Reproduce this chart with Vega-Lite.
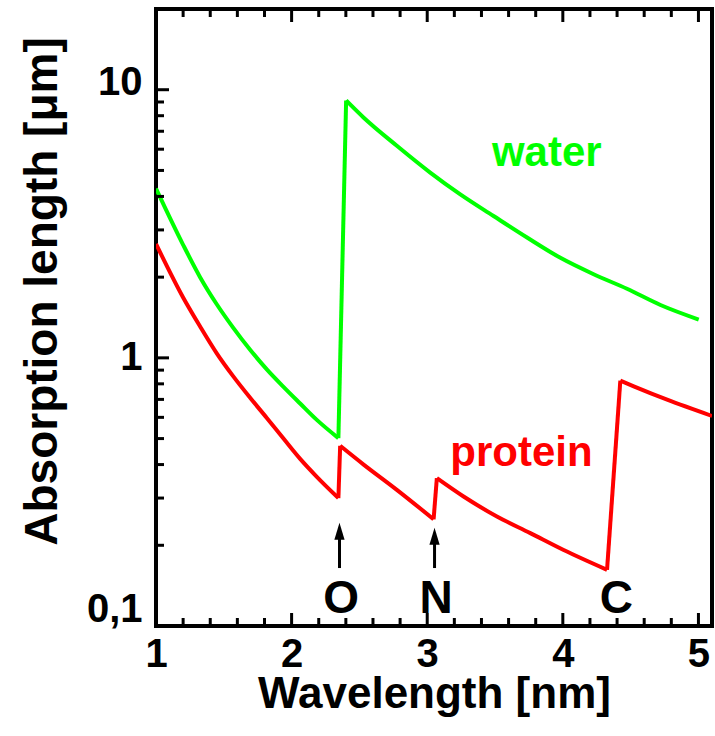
{
  "$schema": "https://vega.github.io/schema/vega-lite/v6.json",
  "width": 556,
  "height": 617,
  "autosize": {"type": "none"},
  "padding": {"left": 156, "top": 9, "right": 3, "bottom": 110},
  "background": "white",
  "config": {
    "view": {"stroke": "black", "strokeWidth": 4},
    "font": "Liberation Sans",
    "axis": {"grid": false, "domain": false, "ticks": false, "labelFont": "Liberation Sans", "labelFontWeight": "bold", "labelColor": "black", "titleFont": "Liberation Sans", "titleFontWeight": "bold", "titleColor": "black"}
  },
  "datasets": {
    "curves": [
      {"s": "water", "seg": "w1", "x": 1.0, "y": 4.28},
      {"s": "water", "seg": "w1", "x": 1.2, "y": 2.64},
      {"s": "water", "seg": "w1", "x": 1.325, "y": 2.0},
      {"s": "water", "seg": "w1", "x": 1.448, "y": 1.585},
      {"s": "water", "seg": "w1", "x": 1.57, "y": 1.294},
      {"s": "water", "seg": "w1", "x": 1.694, "y": 1.072},
      {"s": "water", "seg": "w1", "x": 1.817, "y": 0.906},
      {"s": "water", "seg": "w1", "x": 1.94, "y": 0.78},
      {"s": "water", "seg": "w1", "x": 2.063, "y": 0.676},
      {"s": "water", "seg": "w1", "x": 2.186, "y": 0.587},
      {"s": "water", "seg": "w1", "x": 2.345, "y": 0.502},
      {"s": "water", "seg": "wj", "x": 2.345, "y": 0.502},
      {"s": "water", "seg": "wj", "x": 2.402, "y": 9.12},
      {"s": "water", "seg": "w2", "x": 2.402, "y": 9.12},
      {"s": "water", "seg": "w2", "x": 2.53, "y": 7.88},
      {"s": "water", "seg": "w2", "x": 2.776, "y": 6.18},
      {"s": "water", "seg": "w2", "x": 3.022, "y": 4.91},
      {"s": "water", "seg": "w2", "x": 3.244, "y": 4.07},
      {"s": "water", "seg": "w2", "x": 3.489, "y": 3.38},
      {"s": "water", "seg": "w2", "x": 3.736, "y": 2.81},
      {"s": "water", "seg": "w2", "x": 3.982, "y": 2.36},
      {"s": "water", "seg": "w2", "x": 4.227, "y": 2.05},
      {"s": "water", "seg": "w2", "x": 4.473, "y": 1.81},
      {"s": "water", "seg": "w2", "x": 4.72, "y": 1.575},
      {"s": "water", "seg": "w2", "x": 5.002, "y": 1.39},
      {"s": "protein", "seg": "p1", "x": 1.0, "y": 2.66},
      {"s": "protein", "seg": "p1", "x": 1.2, "y": 1.68},
      {"s": "protein", "seg": "p1", "x": 1.325, "y": 1.31},
      {"s": "protein", "seg": "p1", "x": 1.448, "y": 1.04},
      {"s": "protein", "seg": "p1", "x": 1.57, "y": 0.853},
      {"s": "protein", "seg": "p1", "x": 1.694, "y": 0.71},
      {"s": "protein", "seg": "p1", "x": 1.817, "y": 0.597},
      {"s": "protein", "seg": "p1", "x": 1.94, "y": 0.5},
      {"s": "protein", "seg": "p1", "x": 2.063, "y": 0.42},
      {"s": "protein", "seg": "p1", "x": 2.186, "y": 0.36},
      {"s": "protein", "seg": "p1", "x": 2.345, "y": 0.3},
      {"s": "protein", "seg": "pj1", "x": 2.345, "y": 0.3},
      {"s": "protein", "seg": "pj1", "x": 2.358, "y": 0.47},
      {"s": "protein", "seg": "p2", "x": 2.358, "y": 0.47},
      {"s": "protein", "seg": "p2", "x": 2.531, "y": 0.4},
      {"s": "protein", "seg": "p2", "x": 2.776, "y": 0.322},
      {"s": "protein", "seg": "p2", "x": 3.047, "y": 0.25},
      {"s": "protein", "seg": "pj2", "x": 3.047, "y": 0.25},
      {"s": "protein", "seg": "pj2", "x": 3.071, "y": 0.356},
      {"s": "protein", "seg": "p3", "x": 3.071, "y": 0.356},
      {"s": "protein", "seg": "p3", "x": 3.268, "y": 0.304},
      {"s": "protein", "seg": "p3", "x": 3.514, "y": 0.256},
      {"s": "protein", "seg": "p3", "x": 3.76, "y": 0.222},
      {"s": "protein", "seg": "p3", "x": 4.006, "y": 0.192},
      {"s": "protein", "seg": "p3", "x": 4.326, "y": 0.162},
      {"s": "protein", "seg": "pj3", "x": 4.326, "y": 0.162},
      {"s": "protein", "seg": "pj3", "x": 4.424, "y": 0.822},
      {"s": "protein", "seg": "p4", "x": 4.424, "y": 0.822},
      {"s": "protein", "seg": "p4", "x": 4.523, "y": 0.783},
      {"s": "protein", "seg": "p4", "x": 4.769, "y": 0.698},
      {"s": "protein", "seg": "p4", "x": 5.1, "y": 0.607}
    ],
    "xticks": [
      {"v": 1.2, "kind": "minor"}, {"v": 1.4, "kind": "minor"}, {"v": 1.6, "kind": "minor"}, {"v": 1.8, "kind": "minor"},
      {"v": 2, "kind": "major"}, {"v": 2.2, "kind": "minor"}, {"v": 2.4, "kind": "minor"}, {"v": 2.6, "kind": "minor"}, {"v": 2.8, "kind": "minor"},
      {"v": 3, "kind": "major"}, {"v": 3.2, "kind": "minor"}, {"v": 3.4, "kind": "minor"}, {"v": 3.6, "kind": "minor"}, {"v": 3.8, "kind": "minor"},
      {"v": 4, "kind": "major"}, {"v": 4.2, "kind": "minor"}, {"v": 4.4, "kind": "minor"}, {"v": 4.6, "kind": "minor"}, {"v": 4.8, "kind": "minor"},
      {"v": 5, "kind": "major"}
    ],
    "yticks": [
      {"v": 0.2, "kind": "minor"}, {"v": 0.3, "kind": "minor"}, {"v": 0.4, "kind": "minor"}, {"v": 0.5, "kind": "minor"},
      {"v": 0.6, "kind": "minor"}, {"v": 0.7, "kind": "minor"}, {"v": 0.8, "kind": "minor"}, {"v": 0.9, "kind": "minor"},
      {"v": 1, "kind": "major"},
      {"v": 2, "kind": "minor"}, {"v": 3, "kind": "minor"}, {"v": 4, "kind": "minor"}, {"v": 5, "kind": "minor"},
      {"v": 6, "kind": "minor"}, {"v": 7, "kind": "minor"}, {"v": 8, "kind": "minor"}, {"v": 9, "kind": "minor"},
      {"v": 10, "kind": "major"}
    ],
    "arrows": [
      {"edge": "O", "x": 2.353, "y0": 0.1645, "y1": 0.2187, "yh": 0.2254},
      {"edge": "N", "x": 3.054, "y0": 0.1645, "y1": 0.2094, "yh": 0.216}
    ],
    "edges": [
      {"t": "O", "x": 2.365, "y": 0.1117},
      {"t": "N", "x": 3.066, "y": 0.1117},
      {"t": "C", "x": 4.395, "y": 0.1117}
    ],
    "names": [
      {"t": "water", "x": 3.477, "y": 5.2},
      {"t": "protein", "x": 3.17, "y": 0.3936}
    ]
  },
  "layer": [
    {
      "data": {"name": "curves"},
      "mark": {"type": "line", "strokeWidth": 4, "clip": true, "interpolate": "monotone", "strokeJoin": "miter"},
      "encoding": {
        "x": {"field": "x", "type": "quantitative", "scale": {"type": "linear", "domain": [1, 5.1], "nice": false, "zero": false},
          "axis": {"orient": "bottom", "values": [1, 2, 3, 4, 5], "format": "d", "labelFontSize": 40, "labelPadding": 8, "labelFlush": false, "labelOverlap": false, "labelBound": false, "title": "Wavelength [nm]", "titleFontSize": 44, "titlePadding": -2}},
        "y": {"field": "y", "type": "quantitative", "scale": {"type": "log", "domain": [0.1, 20], "nice": false},
          "axis": {"orient": "left", "values": [0.1, 1, 10], "labelFontSize": 40, "labelPadding": 14, "labelFlush": false, "labelOverlap": false, "labelBound": false, "labelExpr": "datum.value < 0.5 ? '0,1' : format(datum.value, 'd')",
            "labelOffset": {"condition": [{"test": "datum.value < 0.5", "value": -17}, {"test": "datum.value > 5", "value": -7}], "value": 0},
            "title": "Absorption length [μm]", "titleFontSize": 46, "titleAngle": -90, "titleAlign": "center", "titleBaseline": "middle", "titleX": -114, "titleY": 282}},
        "color": {"field": "s", "type": "nominal", "scale": {"domain": ["water", "protein"], "range": ["#00ff00", "#ff0000"]}, "legend": null},
        "detail": {"field": "seg", "type": "nominal"}
      }
    },
    {
      "data": {"name": "xticks"},
      "mark": {"type": "point", "shape": "M0,0L0,-1", "filled": false, "color": "black", "stroke": "black", "strokeWidth": 3, "opacity": 1},
      "encoding": {
        "x": {"field": "v", "type": "quantitative"},
        "y": {"datum": 0.1},
        "size": {"field": "kind", "type": "nominal", "scale": {"domain": ["major", "minor"], "range": [676, 256]}, "legend": null}
      }
    },
    {
      "data": {"name": "xticks"},
      "mark": {"type": "point", "shape": "M0,0L0,1", "filled": false, "color": "black", "stroke": "black", "strokeWidth": 3, "opacity": 1},
      "encoding": {
        "x": {"field": "v", "type": "quantitative"},
        "y": {"datum": 20},
        "size": {"field": "kind", "type": "nominal", "scale": {"domain": ["major", "minor"], "range": [676, 256]}, "legend": null}
      }
    },
    {
      "data": {"name": "yticks"},
      "mark": {"type": "point", "shape": "M0,0L1,0", "filled": false, "color": "black", "stroke": "black", "strokeWidth": 3, "opacity": 1},
      "encoding": {
        "x": {"datum": 1},
        "y": {"field": "v", "type": "quantitative"},
        "size": {"field": "kind", "type": "nominal", "scale": {"domain": ["major", "minor"], "range": [676, 256]}, "legend": null}
      }
    },
    {
      "data": {"name": "arrows"},
      "mark": {"type": "rule", "strokeWidth": 3, "color": "black"},
      "encoding": {
        "x": {"field": "x", "type": "quantitative"},
        "y": {"field": "y0", "type": "quantitative"},
        "y2": {"field": "y1"}
      }
    },
    {
      "data": {"name": "arrows"},
      "mark": {"type": "point", "shape": "M0,-1L0.6,1L-0.6,1Z", "size": 289, "filled": true, "color": "black", "opacity": 1, "strokeWidth": 0},
      "encoding": {
        "x": {"field": "x", "type": "quantitative"},
        "y": {"field": "yh", "type": "quantitative"}
      }
    },
    {
      "data": {"name": "edges"},
      "mark": {"type": "text", "font": "Liberation Sans", "fontWeight": "bold", "fontSize": 46, "align": "center", "baseline": "alphabetic", "color": "black"},
      "encoding": {
        "x": {"field": "x", "type": "quantitative"},
        "y": {"field": "y", "type": "quantitative"},
        "text": {"field": "t"}
      }
    },
    {
      "data": {"name": "names"},
      "mark": {"type": "text", "font": "Liberation Sans", "fontWeight": "bold", "fontSize": 42, "align": "left", "baseline": "alphabetic"},
      "encoding": {
        "x": {"field": "x", "type": "quantitative"},
        "y": {"field": "y", "type": "quantitative"},
        "text": {"field": "t"},
        "color": {"field": "t", "type": "nominal", "scale": {"domain": ["water", "protein"], "range": ["#00ff00", "#ff0000"]}, "legend": null}
      }
    }
  ]
}
